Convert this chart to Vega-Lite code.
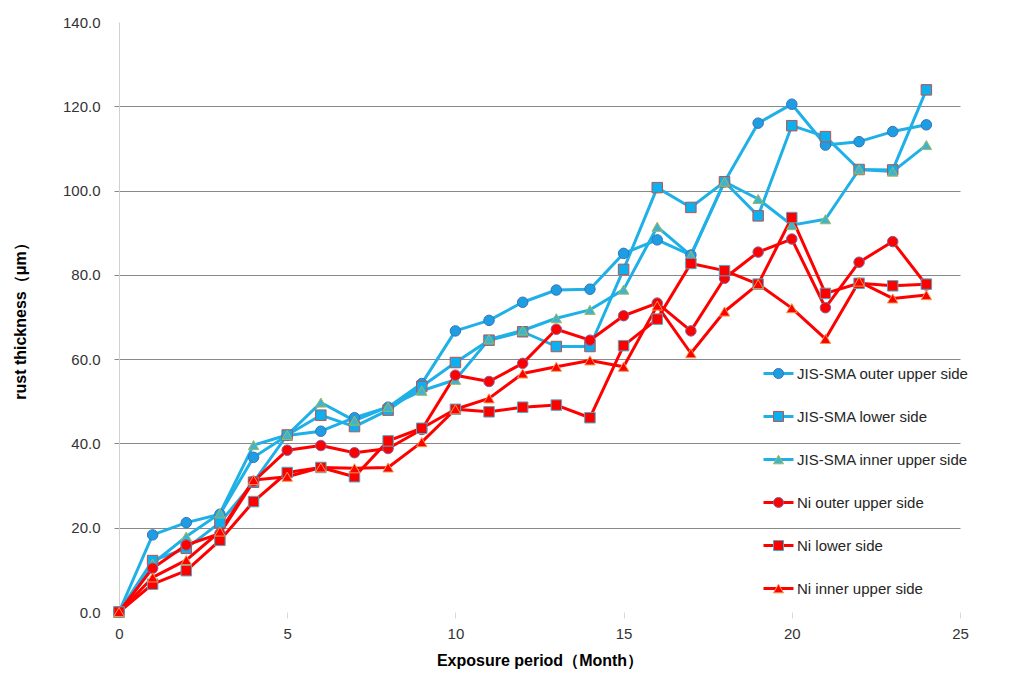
{
  "$schema": "https://vega.github.io/schema/vega-lite/v6.json",
  "width": 841,
  "height": 590,
  "autosize": {"type": "none"},
  "padding": {"left": 119, "top": 22, "right": 70, "bottom": 65},
  "background": "white",
  "config": {
    "view": {"stroke": null},
    "font": "Liberation Sans"
  },
  "data": {
    "values": [
      {"m":0,"s":"JIS-SMA outer upper side","v":0},{"m":1,"s":"JIS-SMA outer upper side","v":18.3},{"m":2,"s":"JIS-SMA outer upper side","v":21.2},{"m":3,"s":"JIS-SMA outer upper side","v":23.2},{"m":4,"s":"JIS-SMA outer upper side","v":36.7},{"m":5,"s":"JIS-SMA outer upper side","v":41.9},{"m":6,"s":"JIS-SMA outer upper side","v":42.9},{"m":7,"s":"JIS-SMA outer upper side","v":46.1},{"m":8,"s":"JIS-SMA outer upper side","v":48.6},{"m":9,"s":"JIS-SMA outer upper side","v":54.2},{"m":10,"s":"JIS-SMA outer upper side","v":66.7},{"m":11,"s":"JIS-SMA outer upper side","v":69.2},{"m":12,"s":"JIS-SMA outer upper side","v":73.5},{"m":13,"s":"JIS-SMA outer upper side","v":76.4},{"m":14,"s":"JIS-SMA outer upper side","v":76.6},{"m":15,"s":"JIS-SMA outer upper side","v":85.1},{"m":16,"s":"JIS-SMA outer upper side","v":88.3},{"m":17,"s":"JIS-SMA outer upper side","v":84.7},{"m":18,"s":"JIS-SMA outer upper side","v":102.1},{"m":19,"s":"JIS-SMA outer upper side","v":116.0},{"m":20,"s":"JIS-SMA outer upper side","v":120.5},{"m":21,"s":"JIS-SMA outer upper side","v":110.8},{"m":22,"s":"JIS-SMA outer upper side","v":111.6},{"m":23,"s":"JIS-SMA outer upper side","v":114.0},{"m":24,"s":"JIS-SMA outer upper side","v":115.6},
      {"m":0,"s":"JIS-SMA lower side","v":0},{"m":1,"s":"JIS-SMA lower side","v":12.2},{"m":2,"s":"JIS-SMA lower side","v":15.1},{"m":3,"s":"JIS-SMA lower side","v":21.2},{"m":4,"s":"JIS-SMA lower side","v":30.8},{"m":5,"s":"JIS-SMA lower side","v":42.0},{"m":6,"s":"JIS-SMA lower side","v":46.7},{"m":7,"s":"JIS-SMA lower side","v":44.0},{"m":8,"s":"JIS-SMA lower side","v":47.9},{"m":9,"s":"JIS-SMA lower side","v":53.5},{"m":10,"s":"JIS-SMA lower side","v":59.2},{"m":11,"s":"JIS-SMA lower side","v":64.5},{"m":12,"s":"JIS-SMA lower side","v":66.5},{"m":13,"s":"JIS-SMA lower side","v":63.0},{"m":14,"s":"JIS-SMA lower side","v":63.0},{"m":15,"s":"JIS-SMA lower side","v":81.3},{"m":16,"s":"JIS-SMA lower side","v":100.7},{"m":17,"s":"JIS-SMA lower side","v":96.0},{"m":18,"s":"JIS-SMA lower side","v":102.1},{"m":19,"s":"JIS-SMA lower side","v":94.0},{"m":20,"s":"JIS-SMA lower side","v":115.4},{"m":21,"s":"JIS-SMA lower side","v":112.8},{"m":22,"s":"JIS-SMA lower side","v":105.0},{"m":23,"s":"JIS-SMA lower side","v":104.9},{"m":24,"s":"JIS-SMA lower side","v":123.9},
      {"m":0,"s":"JIS-SMA inner upper side","v":0},{"m":1,"s":"JIS-SMA inner upper side","v":11.5},{"m":2,"s":"JIS-SMA inner upper side","v":17.9},{"m":3,"s":"JIS-SMA inner upper side","v":23.4},{"m":4,"s":"JIS-SMA inner upper side","v":39.6},{"m":5,"s":"JIS-SMA inner upper side","v":42.0},{"m":6,"s":"JIS-SMA inner upper side","v":49.7},{"m":7,"s":"JIS-SMA inner upper side","v":45.4},{"m":8,"s":"JIS-SMA inner upper side","v":48.7},{"m":9,"s":"JIS-SMA inner upper side","v":52.5},{"m":10,"s":"JIS-SMA inner upper side","v":55.1},{"m":11,"s":"JIS-SMA inner upper side","v":64.7},{"m":12,"s":"JIS-SMA inner upper side","v":66.8},{"m":13,"s":"JIS-SMA inner upper side","v":69.7},{"m":14,"s":"JIS-SMA inner upper side","v":71.7},{"m":15,"s":"JIS-SMA inner upper side","v":76.5},{"m":16,"s":"JIS-SMA inner upper side","v":91.4},{"m":17,"s":"JIS-SMA inner upper side","v":84.6},{"m":18,"s":"JIS-SMA inner upper side","v":102.1},{"m":19,"s":"JIS-SMA inner upper side","v":98.0},{"m":20,"s":"JIS-SMA inner upper side","v":91.8},{"m":21,"s":"JIS-SMA inner upper side","v":93.2},{"m":22,"s":"JIS-SMA inner upper side","v":105.0},{"m":23,"s":"JIS-SMA inner upper side","v":104.5},{"m":24,"s":"JIS-SMA inner upper side","v":110.8},
      {"m":0,"s":"Ni outer upper side","v":0},{"m":1,"s":"Ni outer upper side","v":10.4},{"m":2,"s":"Ni outer upper side","v":15.9},{"m":3,"s":"Ni outer upper side","v":18.6},{"m":4,"s":"Ni outer upper side","v":31.0},{"m":5,"s":"Ni outer upper side","v":38.4},{"m":6,"s":"Ni outer upper side","v":39.5},{"m":7,"s":"Ni outer upper side","v":37.8},{"m":8,"s":"Ni outer upper side","v":38.8},{"m":9,"s":"Ni outer upper side","v":43.3},{"m":10,"s":"Ni outer upper side","v":56.2},{"m":11,"s":"Ni outer upper side","v":54.7},{"m":12,"s":"Ni outer upper side","v":59.0},{"m":13,"s":"Ni outer upper side","v":67.1},{"m":14,"s":"Ni outer upper side","v":64.5},{"m":15,"s":"Ni outer upper side","v":70.3},{"m":16,"s":"Ni outer upper side","v":73.3},{"m":17,"s":"Ni outer upper side","v":66.7},{"m":18,"s":"Ni outer upper side","v":79.2},{"m":19,"s":"Ni outer upper side","v":85.4},{"m":20,"s":"Ni outer upper side","v":88.5},{"m":21,"s":"Ni outer upper side","v":72.2},{"m":22,"s":"Ni outer upper side","v":83.0},{"m":23,"s":"Ni outer upper side","v":87.9},{"m":24,"s":"Ni outer upper side","v":77.6},
      {"m":0,"s":"Ni lower side","v":0},{"m":1,"s":"Ni lower side","v":6.6},{"m":2,"s":"Ni lower side","v":9.8},{"m":3,"s":"Ni lower side","v":17.0},{"m":4,"s":"Ni lower side","v":26.2},{"m":5,"s":"Ni lower side","v":33.1},{"m":6,"s":"Ni lower side","v":34.3},{"m":7,"s":"Ni lower side","v":32.1},{"m":8,"s":"Ni lower side","v":40.6},{"m":9,"s":"Ni lower side","v":43.6},{"m":10,"s":"Ni lower side","v":48.1},{"m":11,"s":"Ni lower side","v":47.5},{"m":12,"s":"Ni lower side","v":48.6},{"m":13,"s":"Ni lower side","v":49.1},{"m":14,"s":"Ni lower side","v":46.1},{"m":15,"s":"Ni lower side","v":63.2},{"m":16,"s":"Ni lower side","v":69.5},{"m":17,"s":"Ni lower side","v":82.7},{"m":18,"s":"Ni lower side","v":81.0},{"m":19,"s":"Ni lower side","v":77.8},{"m":20,"s":"Ni lower side","v":93.6},{"m":21,"s":"Ni lower side","v":75.6},{"m":22,"s":"Ni lower side","v":78.0},{"m":23,"s":"Ni lower side","v":77.4},{"m":24,"s":"Ni lower side","v":77.8},
      {"m":0,"s":"Ni inner upper side","v":0},{"m":1,"s":"Ni inner upper side","v":8.2},{"m":2,"s":"Ni inner upper side","v":12.3},{"m":3,"s":"Ni inner upper side","v":19.1},{"m":4,"s":"Ni inner upper side","v":31.3},{"m":5,"s":"Ni inner upper side","v":32.1},{"m":6,"s":"Ni inner upper side","v":34.3},{"m":7,"s":"Ni inner upper side","v":34.1},{"m":8,"s":"Ni inner upper side","v":34.3},{"m":9,"s":"Ni inner upper side","v":40.3},{"m":10,"s":"Ni inner upper side","v":48.1},{"m":11,"s":"Ni inner upper side","v":50.7},{"m":12,"s":"Ni inner upper side","v":56.6},{"m":13,"s":"Ni inner upper side","v":58.2},{"m":14,"s":"Ni inner upper side","v":59.7},{"m":15,"s":"Ni inner upper side","v":58.2},{"m":16,"s":"Ni inner upper side","v":72.7},{"m":17,"s":"Ni inner upper side","v":61.4},{"m":18,"s":"Ni inner upper side","v":71.3},{"m":19,"s":"Ni inner upper side","v":77.8},{"m":20,"s":"Ni inner upper side","v":72.1},{"m":21,"s":"Ni inner upper side","v":64.8},{"m":22,"s":"Ni inner upper side","v":78.4},{"m":23,"s":"Ni inner upper side","v":74.4},{"m":24,"s":"Ni inner upper side","v":75.2}
    ]
  },
  "encoding": {
    "x": {
      "field": "m", "type": "quantitative",
      "scale": {"domain": [0, 25], "nice": false},
      "axis": {
        "title": "Exposure period（Month）",
        "values": [0, 5, 10, 15, 20, 25],
        "domain": false, "grid": false,
        "ticks": true, "tickColor": "#D9D9D9", "tickSize": 6, "tickWidth": 1,
        "labelFont": "Liberation Sans", "labelFontSize": 15, "labelColor": "#333333", "labelPadding": 8,
        "labelFlush": false,
        "titleFont": "Liberation Sans", "titleFontSize": 16, "titleFontWeight": "bold", "titleColor": "#000000", "titlePadding": 11
      }
    },
    "y": {
      "field": "v", "type": "quantitative",
      "scale": {"domain": [0, 140], "nice": false},
      "axis": {
        "title": "rust thickness（μm）",
        "values": [0, 20, 40, 60, 80, 100, 120, 140],
        "format": ".1f",
        "domain": true, "domainColor": "#D0D0D0", "domainWidth": 1,
        "grid": true, "gridColor": "#888888", "gridWidth": 1,
        "gridOpacity": {"condition": {"test": "datum.value == 0 || datum.value == 140", "value": 0}, "value": 1},
        "ticks": true, "tickColor": "#888888", "tickSize": 5,
        "tickOpacity": {"condition": {"test": "datum.value == 0 || datum.value == 140", "value": 0}, "value": 1},
        "labelFont": "Liberation Sans", "labelFontSize": 15, "labelColor": "#333333", "labelPadding": 14,
        "labelFlush": false,
        "titleFont": "Liberation Sans", "titleFontSize": 16, "titleFontWeight": "bold", "titleColor": "#000000", "titlePadding": 34
      }
    }
  },
  "layer": [
    {
      "mark": {"type": "line", "strokeWidth": 3, "strokeJoin": "round"},
      "encoding": {
        "color": {
          "field": "s", "type": "nominal",
          "scale": {
            "domain": ["JIS-SMA outer upper side", "JIS-SMA lower side", "JIS-SMA inner upper side", "Ni outer upper side", "Ni lower side", "Ni inner upper side"],
            "range": ["#1EB0E6", "#1EB0E6", "#1EB0E6", "#FF0000", "#FF0000", "#FF0000"]
          },
          "legend": {
            "title": null,
            "orient": "none",
            "legendX": 652,
            "legendY": 344,
            "symbolType": "M-3,0H3",
            "symbolSize": 100,
            "symbolStrokeWidth": 3,
            "labelFont": "Liberation Sans",
            "labelFontSize": 15,
            "labelOpacity": 0,
            "labelOffset": 11,
            "labelLimit": 300,
            "rowPadding": 27
          }
        }
      }
    },
    {
      "mark": {"type": "point", "filled": true, "size": 110, "strokeWidth": 1, "opacity": 1},
      "encoding": {
        "fill": {
          "field": "s", "type": "nominal", "sort": null,
          "scale": {
            "range": ["#1E9EE2", "#0DB0EE", "#3FB3D0", "#FF0000", "#FF0000", "#FF0000"]
          },
          "legend": {
            "title": null,
            "orient": "none",
            "legendX": 652,
            "legendY": 344,
            "symbolSize": 100,
            "symbolStrokeWidth": 1,
            "labelFont": "Liberation Sans",
            "labelFontSize": 15,
            "labelColor": "#262626",
            "labelOffset": 11,
            "labelLimit": 300,
            "rowPadding": 27
          }
        },
        "stroke": {
          "field": "s", "type": "nominal", "sort": null,
          "scale": {
            "range": ["#3A70B8", "#C0504D", "#9BBB59", "#8064A2", "#4BACC6", "#F79646"]
          }
        },
        "shape": {
          "field": "s", "type": "nominal", "sort": null,
          "scale": {
            "range": ["circle", "square", "triangle-up", "circle", "square", "triangle-up"]
          }
        }
      }
    }
  ]
}
